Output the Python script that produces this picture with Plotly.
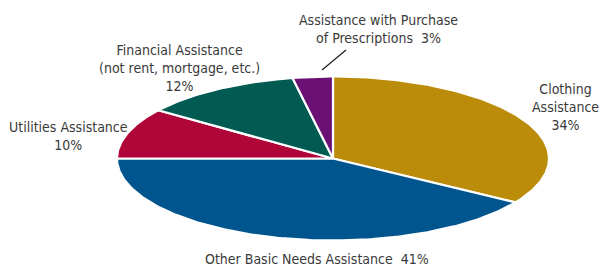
import numpy as np
import plotly.graph_objects as go

categories = ["Clothing Assistance", "Other Basic Needs Assistance", "Utilities Assistance",
              "Financial Assistance (not rent, mortgage, etc.)", "Assistance with Purchase of Prescriptions"]
values = [34, 41, 10, 12, 3]
colors = ["#BB8C09", "#00558F", "#B00538", "#015B52", "#6C1174"]

label_texts = [
    "Clothing<br>Assistance<br>34%",
    "Other Basic Needs Assistance  41%",
    "Utilities Assistance<br>10%",
    "Financial Assistance<br>(not rent, mortgage, etc.)<br>12%",
    "Assistance with Purchase<br>of Prescriptions  3%",
]
label_pos = [(565, 107), (317, 259), (68, 136), (179, 68), (378, 29)]

W, H = 602, 266
cx, cy, rx, ry = 333, 158.5, 216, 82

fig = go.Figure()
total = sum(values)
cum = 0.0
for v, c, name in zip(values, colors, categories):
    t0 = cum / total * 2 * np.pi
    cum += v
    t1 = cum / total * 2 * np.pi
    t = np.linspace(t0, t1, max(int(v * 4), 8))
    xs = np.concatenate([[cx], cx + rx * np.sin(t), [cx]])
    ys = np.concatenate([[cy], cy - ry * np.cos(t), [cy]])
    fig.add_trace(go.Scatter(x=xs, y=ys, mode="lines", fill="toself", fillcolor=c,
                             line=dict(color="white", width=2.2), name=name,
                             hoverinfo="name", showlegend=False))

font = dict(family="DejaVu Sans Condensed, Liberation Sans Narrow, sans-serif", size=14, color="#3a3a3a")
for txt, (x, y) in zip(label_texts, label_pos):
    fig.add_annotation(x=x, y=y, xref="x", yref="y", text=txt, showarrow=False,
                       font=font, align="center", xanchor="center", yanchor="middle")

fig.add_shape(type="line", x0=322, y0=70, x1=346, y1=50, xref="x", yref="y",
              line=dict(color="#222222", width=1.3))

fig.update_xaxes(range=[0, W], visible=False, fixedrange=True)
fig.update_yaxes(range=[H, 0], visible=False, fixedrange=True)
fig.update_layout(width=W, height=H, margin=dict(l=0, r=0, t=0, b=0),
                  plot_bgcolor="white", paper_bgcolor="white")
fig.write_html("out.html", config={"displayModeBar": False},
               post_script="document.body.style.margin='0';document.body.style.overflow='hidden';")
